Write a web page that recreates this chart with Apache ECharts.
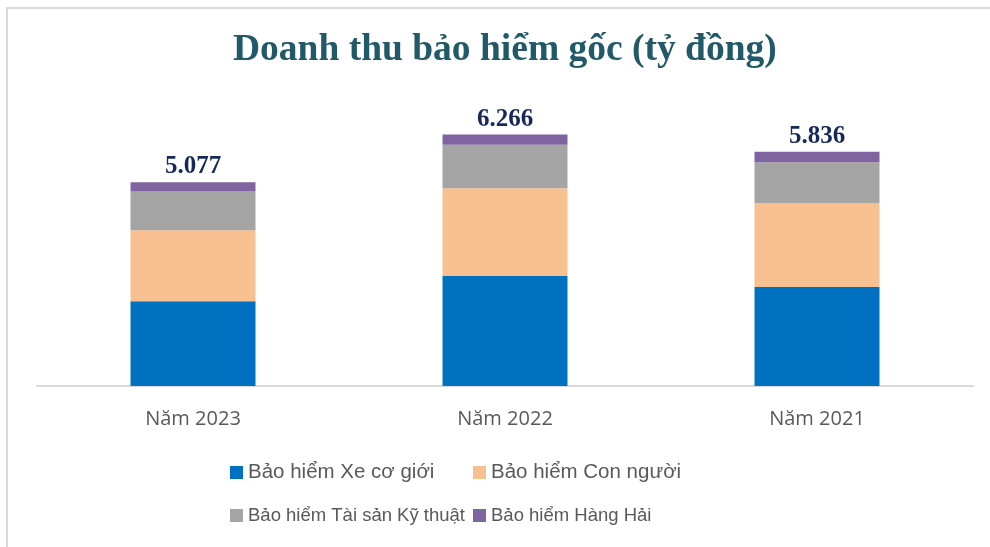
<!DOCTYPE html>
<html>
<head>
<meta charset="utf-8">
<script src="https://cdn.jsdelivr.net/npm/echarts@6/dist/echarts.min.js"></script>
<style>
  html, body { margin: 0; padding: 0; background: #fff; }
  #chart { width: 990px; height: 547px; }
</style>
</head>
<body>
<div id="chart"></div>
<script>
// dữ liệu (tỷ đồng)
const years = ['Năm 2023', 'Năm 2022', 'Năm 2021']
const seriesNames = ['Bảo hiểm Xe cơ giới', 'Bảo hiểm Con người', 'Bảo hiểm Tài sản Kỹ thuật', 'Bảo hiểm Hàng Hải']
const xeCoGioi = [2115, 2740, 2465]
const conNguoi = [1765, 2191, 2090]
const taiSanKyThuat = [970, 1079, 1024]
const hangHai = [227, 256, 257]
const totals = ['5.077', '6.266', '5.836']

const colors = ['#0070C0', '#F8C090', '#A5A5A5', '#8064A2']
const values = [xeCoGioi, conNguoi, taiSanKyThuat, hangHai]

const chart = echarts.init(document.getElementById('chart'))

const series = seriesNames.map((name, i) => {
  const s = {
    name: name,
    type: 'bar',
    stack: 'total',
    barWidth: 125,
    itemStyle: { color: colors[i] },
    emphasis: { disabled: true },
    data: values[i]
  }
  if (i === seriesNames.length - 1) {
    // nhãn tổng ở đỉnh cột
    s.label = {
      show: true,
      position: 'top',
      distance: 3,
      formatter: p => totals[p.dataIndex],
      fontFamily: 'Liberation Serif',
      fontWeight: 'bold',
      fontSize: 25,
      color: '#15295B'
    }
  }
  return s
})

// mỗi mục chú thích đặt riêng để thẳng cột như hình gốc
const legendPos = [[230, 462, 20.5], [473, 462, 20.5], [230, 506, 18.5], [473, 506, 18.5]]
const legends = seriesNames.map((name, i) => ({
  left: legendPos[i][0],
  top: legendPos[i][1],
  padding: 0,
  itemWidth: 13,
  itemHeight: 13,
  icon: 'rect',
  textStyle: { fontFamily: 'Liberation Sans', fontSize: legendPos[i][2], color: '#595959' },
  data: [name]
}))

const option = {
  animation: false,
  color: colors,
  title: {
    text: 'Doanh thu bảo hiểm gốc (tỷ đồng)',
    left: 233,
    top: 31,
    padding: 0,
    textStyle: {
      fontFamily: 'Liberation Serif',
      fontWeight: 'bold',
      fontSize: 37.5,
      color: '#215968'
    }
  },
  legend: legends,
  grid: { left: 37, right: 17, top: 65, bottom: 161, containLabel: false },
  xAxis: {
    type: 'category',
    data: years,
    axisLine: { lineStyle: { color: '#D9D9D9', width: 2 } },
    axisTick: { show: false },
    axisLabel: {
      margin: 23,
      fontFamily: 'Open Sans',
      fontSize: 20,
      color: '#595959'
    }
  },
  yAxis: {
    type: 'value',
    min: 0,
    max: 8000,
    show: false,
    splitLine: { show: false }
  },
  graphic: [
    {
      type: 'rect',
      shape: { x: 7, y: 8, width: 1100, height: 700 },
      style: { fill: 'none', stroke: '#D9D9D9', lineWidth: 2 },
      silent: true
    }
  ],
  series: series
}

chart.setOption(option)
</script>
</body>
</html>
